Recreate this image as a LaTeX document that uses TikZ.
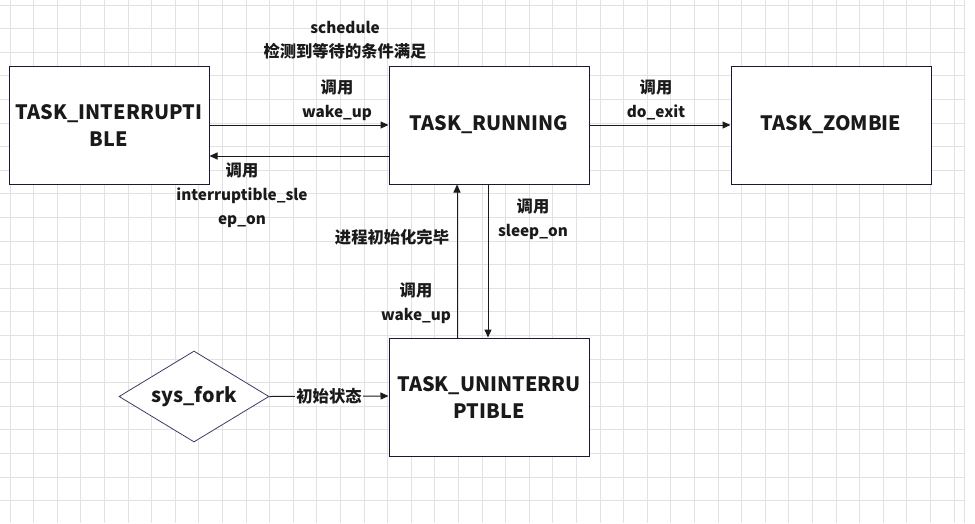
\documentclass[tikz,border=0pt]{standalone}
\usepackage{fontspec}
\setmainfont{Noto Sans CJK SC}
\usetikzlibrary{arrows.meta,shapes.geometric}
\definecolor{gridc}{RGB}{226,226,226}
\definecolor{boxc}{RGB}{24,24,56}
\definecolor{dia}{RGB}{60,60,100}
\definecolor{txt}{RGB}{26,26,26}
\newcommand{\zh}[1]{{\fontsize{16.3}{24}\selectfont #1}}
\begin{document}
\begin{tikzpicture}[x=1pt,y=-1pt,
  gridline/.style={draw=gridc,line width=0.8pt},
  statebox/.style={draw=boxc,line width=1pt,fill=white,minimum width=200pt,minimum height=118pt,inner sep=0pt,align=center,text=txt,font=\fontsize{19.8}{27}\selectfont\bfseries},
  forkshape/.style={diamond,draw=dia,line width=0.8pt,fill=white,minimum width=150pt,minimum height=91pt,inner sep=0pt,aspect=1.65,text=txt,font=\fontsize{19.8}{27}\selectfont\bfseries},
  lbl/.style={align=center,text=txt,inner sep=0pt,font=\fontsize{15.3}{24}\selectfont\bfseries},
  conn/.style={draw=txt,line width=1pt,-{Triangle[length=8pt,width=7pt]}}]
\useasboundingbox (0,0) rectangle (975,523);
\fill[white] (0,0) rectangle (975,523);
\foreach \k in {0,...,40} \draw[gridline] ({10+23.6*\k},0) -- ({10+23.6*\k},523);
\draw[gridline] (964,0) -- (964,523);
\foreach \k in {0,...,22} \draw[gridline] (0,{5+23.6*\k}) -- (964,{5+23.6*\k});

\node[statebox] (int) at (109,125) {TASK\_INTERRUPTI\\BLE};
\node[statebox] (run) at (489,125) {TASK\_RUNNING};
\node[statebox] (zom) at (831,125) {TASK\_ZOMBIE};
\node[statebox] (uni) at (489,397) {TASK\_UNINTERRU\\PTIBLE};
\node[forkshape] (fork) at (194,396.5) {sys\_fork};

\draw[conn] (int.east) -- (run.west);
\draw[conn] ([yshift=-31pt]run.west) -- ([yshift=-31pt]int.east);
\draw[conn] (run.east) -- (zom.west);
\draw[conn] ([xshift=-1pt]run.south) -- ([xshift=-1pt]uni.north);
\draw[conn] ([xshift=-32pt]uni.north) -- ([xshift=-32pt]run.south);
\draw[conn] (fork.east) -- ([yshift=1pt]uni.west);

\node[lbl] (sched) at (345,40) {schedule\\\zh{检测到等待的条件满足}};
\node[lbl] (wk1) at (337,100) {\zh{调用}\\wake\_up};
\node[lbl] (sl1) at (242,195.5) {\zh{调用}\\interruptible\_sle\\ep\_on};
\node[lbl] (ex) at (656,100) {\zh{调用}\\do\_exit};
\node[lbl] (sl2) at (533,219) {\zh{调用}\\sleep\_on};
\node[lbl] (init) at (392,237) {\zh{进程初始化完毕}};
\node[lbl] (wk2) at (416,303.5) {\zh{调用}\\wake\_up};
\node[lbl,fill=white,inner sep=1pt] (st) at (329,396) {\zh{初始状态}};
\end{tikzpicture}
\end{document}
